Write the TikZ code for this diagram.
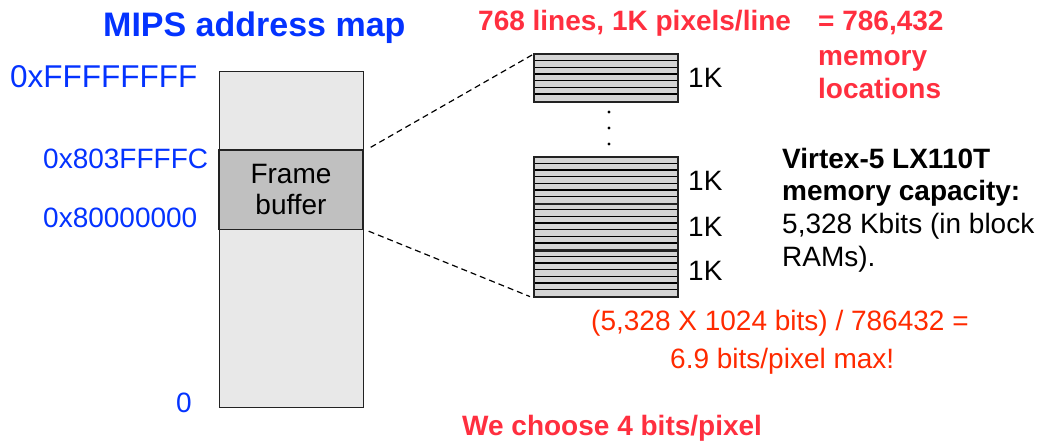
\documentclass[tikz,border=0pt]{standalone}
\usepackage{fontspec}
\setmainfont{Liberation Sans}
\usetikzlibrary{calc}
\definecolor{addrblue}{HTML}{0433FF}
\definecolor{notered}{HTML}{FF2F3F}
\definecolor{calcred}{HTML}{FF2A00}
\definecolor{memlight}{HTML}{E8E8E8}
\definecolor{memdark}{HTML}{C0C0C0}
\definecolor{stripefill}{HTML}{D4D4D4}
\definecolor{edge}{HTML}{222222}
\begin{document}
\begin{tikzpicture}[x=1pt,y=-1pt,
  txt/.style={inner sep=0pt, anchor=base west, font=\fontsize{28}{32}\selectfont},
  bold/.style={txt, font=\fontsize{28}{32}\selectfont\bfseries},
  addr/.style={txt, text=addrblue},
  mapbox/.style={draw=edge, line width=1.4pt, fill=memlight, inner sep=0pt,
    minimum width=144pt, anchor=north west},
  fbbox/.style={draw=edge, line width=1.4pt, fill=memdark, inner sep=0pt,
    minimum width=144pt, minimum height=79.5pt, align=center,
    font=\fontsize{28}{31}\selectfont},
  blockbox/.style={draw=edge, line width=1.4pt, fill=stripefill, inner sep=0pt,
    minimum width=143pt, minimum height=46.5pt, anchor=north west},
  stripe/.style={draw=black, line width=1.3pt},
  zoomline/.style={draw=black, line width=1.2pt, dash pattern=on 6pt off 4pt}
]
\useasboundingbox (0,0) rectangle (1039,442);

% title
\node[txt, text=addrblue, font=\fontsize{34}{38}\selectfont\bfseries] (title) at (103,36) {MIPS address map};

% address map column
\node[mapbox, minimum height=336pt] (map) at (219,71) {};
\node[fbbox] (fb) at (291,189.75) {Frame\\buffer};

% address labels
\node[addr, font=\fontsize{31.5}{34}\selectfont] (atop) at (10,87) {0xFFFFFFFF};
\node[addr] (afbtop) at (43,168) {0x803FFFFC};
\node[addr] (afbbot) at (43,227.5) {0x80000000};
\node[addr] (azero) at (176,412.5) {0};

% frame buffer lines as block RAM stripes
\node[blockbox] (blkA) at (534,54) {};
\node[blockbox] (blkB) at (534,156.7) {};
\node[blockbox] (blkC) at (534,203.2) {};
\node[blockbox] (blkD) at (534,249.7) {};
\foreach \b in {blkA,blkB,blkC,blkD}{
  \foreach \k in {1,...,6}{
    \draw[stripe] ($(\b.north west)+(0,\k*6.643)$) -- ++(143,0);
  }
  \draw[draw=edge, line width=1.4pt] (\b.north west) rectangle (\b.south east);
}

% block size labels
\node[txt] (kA) at (688,87) {1K};
\node[txt] (kB) at (688,190) {1K};
\node[txt] (kC) at (688,236) {1K};
\node[txt] (kD) at (688,280) {1K};

% vertical ellipsis
\foreach \yy in {112,128,144}{ \fill (609,\yy) circle (1.7pt); }

% zoom lines from the frame buffer to the stripes
\draw[zoomline] ($(fb.north east)+(7,-2)$) -- ($(blkA.north west)+(-2,1)$);
\draw[zoomline] ($(fb.south east)+(5,1)$) -- ($(blkD.south west)+(-4,-1)$);

% top notes
\node[bold, text=notered] (lines) at (478,30) {768 lines, 1K pixels/line};
\node[bold, text=notered] (tot1) at (818,30) {= 786,432};
\node[bold, text=notered] (tot2) at (818,65) {memory};
\node[bold, text=notered] (tot3) at (818,98.5) {locations};

% FPGA capacity
\node[bold] (cap1) at (782,168) {Virtex-5 LX110T};
\node[bold] (cap2) at (782,200.5) {memory capacity:};
\node[txt] (cap3) at (782,233.5) {5,328 Kbits (in block};
\node[txt] (cap4) at (782,266) {RAMs).};

% calculation
\node[txt, text=calcred] (calc1) at (591,330.5) {(5,328 X 1024 bits) / 786432 =};
\node[txt, text=calcred] (calc2) at (670,368) {6.9 bits/pixel max!};

% choice
\node[bold, text=notered] (choice) at (462,435) {We choose 4 bits/pixel};
\end{tikzpicture}
\end{document}
